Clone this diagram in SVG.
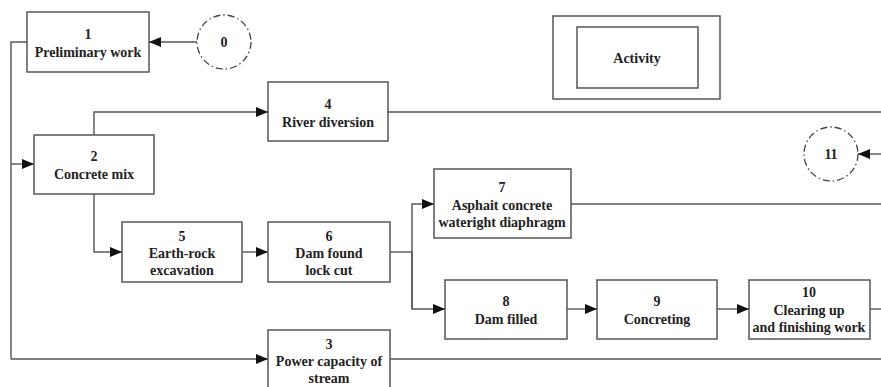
<svg xmlns="http://www.w3.org/2000/svg" width="881" height="387" viewBox="0 0 881 387">
<defs>
<marker id="ah" markerUnits="userSpaceOnUse" markerWidth="12" markerHeight="10" viewBox="0 0 12 10" refX="12" refY="5" orient="auto">
<path d="M0,0 L12,5 L0,10 Z" fill="#111"/>
</marker>
</defs>
<style>
rect.box{fill:#fff;stroke:#555;stroke-width:1.5}
circle.ev{fill:#fff;stroke:#444;stroke-width:1.3;stroke-dasharray:7 3 1.5 3}
text{font-family:"Liberation Serif","Times New Roman",serif;font-weight:bold;font-size:14px;fill:#222;text-anchor:middle}
.c path{fill:none;stroke:#555;stroke-width:1.4}
.c path.a{marker-end:url(#ah)}
</style>
<rect width="881" height="387" fill="#fff"/>
<g class="c" id="connectors">
<path class="a" d="M197,42 H149"/>
<path d="M27,42 H11 V359"/>
<path class="a" d="M11,164 H34"/>
<path class="a" d="M11,359 H268"/>
<path d="M390,359 H881"/>
<path class="a" d="M94,135 V112 H268"/>
<path d="M388,112 H881"/>
<path class="a" d="M881,154 H858"/>
<path class="a" d="M94,194 V252 H122"/>
<path class="a" d="M242,252 H268"/>
<path d="M390,252 H412"/>
<path class="a" d="M412,309 V204 H434"/>
<path class="a" d="M412,252 V309 H445"/>
<path d="M571,204 H881"/>
<path class="a" d="M567,309 H597"/>
<path class="a" d="M717,309 H749"/>
<path d="M870,309 H881"/>
<path class="a" d="M553,58 H577"/>
<path class="a" d="M698,58 H720"/>
</g>
<g id="n0"><circle class="ev" cx="224" cy="42" r="27"/><text x="224" y="47">0</text></g>
<g id="n11"><circle class="ev" cx="831" cy="154" r="27"/><text x="831" y="159">11</text></g>
<g id="n1"><rect class="box" x="27" y="12" width="122" height="60"/><text x="88" y="39">1</text><text x="88" y="57">Preliminary work</text></g>
<g id="n2"><rect class="box" x="34" y="135" width="120" height="59"/><text x="94" y="161">2</text><text x="94" y="179">Concrete mix</text></g>
<g id="n4"><rect class="box" x="268" y="82" width="120" height="59"/><text x="328" y="109">4</text><text x="328" y="127">River diversion</text></g>
<g id="legend"><rect class="box" x="553" y="16" width="167" height="83"/><rect class="box" x="577" y="27" width="121" height="61"/><text x="637" y="63">Activity</text></g>
<g id="n5"><rect class="box" x="122" y="222" width="120" height="60"/><text x="182" y="241">5</text><text x="182" y="258">Earth-rock</text><text x="182" y="275">excavation</text></g>
<g id="n6"><rect class="box" x="268" y="222" width="122" height="60"/><text x="329" y="241">6</text><text x="329" y="258">Dam found</text><text x="329" y="275">lock cut</text></g>
<g id="n7"><rect class="box" x="434" y="169" width="137" height="69"/><text x="502" y="192">7</text><text x="502" y="210">Asphait concrete</text><text x="502" y="227">wateright diaphragm</text></g>
<g id="n8"><rect class="box" x="445" y="280" width="122" height="59"/><text x="506" y="306">8</text><text x="506" y="324">Dam filled</text></g>
<g id="n9"><rect class="box" x="597" y="280" width="120" height="59"/><text x="657" y="306">9</text><text x="657" y="324">Concreting</text></g>
<g id="n10"><rect class="box" x="749" y="280" width="121" height="59"/><text x="809" y="297">10</text><text x="809" y="315">Clearing up</text><text x="809" y="332">and finishing work</text></g>
<g id="n3"><rect class="box" x="268" y="330" width="122" height="70"/><text x="329" y="349">3</text><text x="329" y="366">Power capacity of</text><text x="329" y="383">stream</text></g>
</svg>
